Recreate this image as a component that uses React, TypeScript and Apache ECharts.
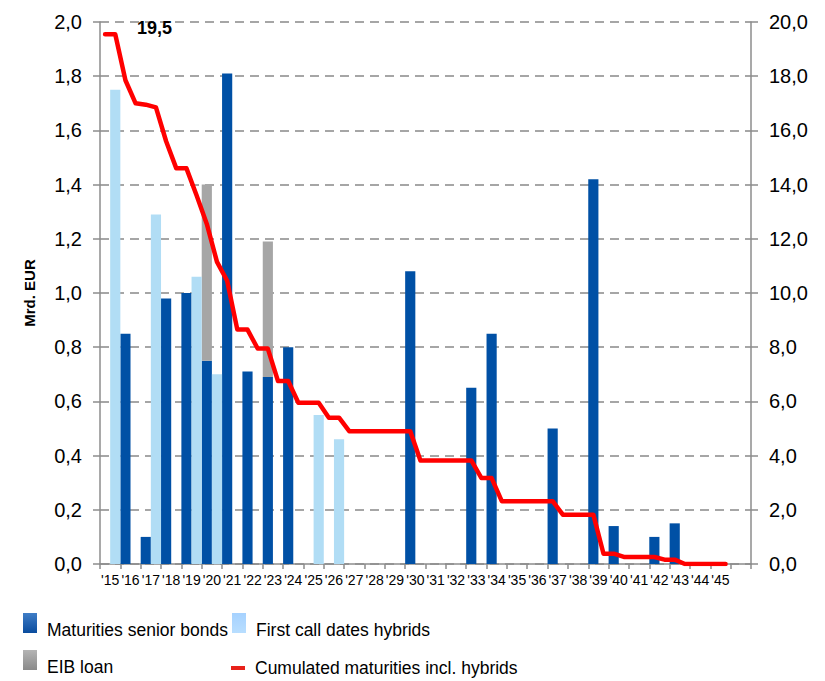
import React, { useEffect, useRef } from "react";
import * as echarts from "echarts";

const years = ["'15","'16","'17","'18","'19","'20","'21","'22","'23","'24","'25","'26","'27","'28","'29","'30","'31","'32","'33","'34","'35","'36","'37","'38","'39","'40","'41","'42","'43","'44","'45",""];

const seniorBonds = [null,0.85,0.10,0.98,1.00,0.75,1.81,0.71,0.69,0.80,null,null,null,null,null,1.08,null,null,0.65,0.85,null,null,0.50,null,1.42,0.14,null,0.10,0.15,null,null,null];
const eibLoan = [null,null,null,null,null,0.65,null,null,0.50,null,null,null,null,null,null,null,null,null,null,null,null,null,null,null,null,null,null,null,null,null,null,null];
const hybrids = [1.75,null,1.29,null,1.06,0.70,null,null,null,null,0.55,0.46,null,null,null,null,null,null,null,null,null,null,null,null,null,null,null,null,null,null,null,null];

// cumulated maturities, read at every half-year slot (two points per year)
const cumulated = [
  19.55,19.55, 17.85,17.0, 16.95,16.85, 15.6,14.6, 14.6,13.6, 12.55,11.15, 10.45,8.65, 8.65,7.95,
  7.95,6.75, 6.75,5.95, 5.95,5.95, 5.4,5.4, 4.9,4.9, 4.9,4.9, 4.9,4.9, 4.9,3.82,
  3.82,3.82, 3.82,3.82, 3.82,3.17, 3.17,2.32, 2.32,2.32, 2.32,2.32, 2.32,1.82, 1.82,1.82,
  1.82,0.38, 0.38,0.26, 0.26,0.26, 0.26,0.16, 0.16,0, 0,0, 0,0, null,null
];
const halfSlots = cumulated.map((_, i) => String(i));

const leftTicks = { min: 0, max: 2, interval: 0.2 };
const rightTicks = { min: 0, max: 20, interval: 2 };

const FONT = "'Liberation Sans', Arial, sans-serif";

const DARK = "#0050A5";
const LIGHT = "#B1DDF5";
const GRAY = "#A6A6A6";
const RED = "#FF0000";
const AXIS = "#8C8C8C";

const fmt = (v: number) => v.toFixed(1).replace(".", ",");

export default function App() {
  const ref = useRef<HTMLDivElement>(null);
  useEffect(() => {
    if (!ref.current) return;
    const chart = echarts.init(ref.current, undefined, { renderer: "svg" });
    const grad = (a: string, b: string) =>
      new echarts.graphic.LinearGradient(0, 0, 0, 1, [
        { offset: 0, color: a },
        { offset: 1, color: b },
      ]);
    const legendText = (shift: boolean) => ({
      fontFamily: FONT,
      fontSize: 17.5,
      color: "#000",
      rich: {
        t: {
          fontFamily: FONT,
          fontSize: 17.5,
          color: "#000",
          padding: shift ? [14, 0, 0, 5] : [0, 0, 0, 5],
        },
      },
    });
    const legendBase = {
      orient: "horizontal",
      padding: 0,
      icon: "rect",
      itemWidth: 14,
      itemHeight: 20,
      itemGap: 10,
      selectedMode: false,
      formatter: "{t|{name}}",
    };
    chart.setOption({
      animation: false,
      backgroundColor: "#fff",
      grid: { left: 100, top: 22, width: 651, height: 542 },
      legend: [
        { ...legendBase, left: 23, top: 613, textStyle: legendText(true),
          data: [{ name: "Maturities senior bonds", itemStyle: { color: grad("#3F7DC6", "#0A4C9E") } }] },
        { ...legendBase, left: 232, top: 613, textStyle: legendText(true),
          data: [{ name: "First call dates hybrids", itemStyle: { color: grad("#A6D2FF", "#B8DEFF") } }] },
        { ...legendBase, left: 23, top: 650, textStyle: legendText(true),
          data: [{ name: "EIB loan", itemStyle: { color: grad("#B4B4B4", "#8A8A8A") } }] },
        { ...legendBase, left: 231, top: 659, itemHeight: 4, textStyle: legendText(false),
          data: [{ name: "Cumulated maturities incl. hybrids", itemStyle: { color: "#E8211A" } }] },
      ],
      xAxis: [
        {
          type: "category",
          data: years,
          boundaryGap: true,
          axisLine: { show: true, lineStyle: { color: AXIS, width: 1.5 } },
          axisTick: { show: true, length: 5, lineStyle: { color: AXIS, width: 1.5 } },
          axisLabel: { interval: 0, fontFamily: FONT, fontSize: 14, color: "#000", margin: 9 },
          splitLine: { show: false },
        },
        {
          type: "category",
          data: halfSlots,
          boundaryGap: true,
          show: false,
          position: "top",
        },
      ],
      yAxis: [
        {
          type: "value",
          ...leftTicks,
          position: "left",
          name: "Mrd. EUR",
          nameLocation: "middle",
          nameGap: 63,
          nameRotate: 90,
          nameTextStyle: { fontFamily: FONT, fontWeight: "bold", fontSize: 15, color: "#000" },
          axisLine: { show: true, lineStyle: { color: AXIS, width: 1.5 } },
          axisTick: { show: true, length: 7, lineStyle: { color: AXIS, width: 1.5 } },
          axisLabel: { formatter: fmt, fontFamily: FONT, fontSize: 20, color: "#000", margin: 18 },
          splitLine: { show: true, lineStyle: { color: "#A6A6A6", width: 2, type: [9, 6] } },
        },
        {
          type: "value",
          ...rightTicks,
          position: "right",
          axisLine: { show: true, lineStyle: { color: AXIS, width: 1.5 } },
          axisTick: { show: true, length: 7, lineStyle: { color: AXIS, width: 1.5 } },
          axisLabel: { formatter: fmt, fontFamily: FONT, fontSize: 20, color: "#000", margin: 18 },
          splitLine: { show: false },
        },
      ],
      series: [
        {
          name: "Maturities senior bonds",
          type: "bar",
          stack: "bonds",
          data: seniorBonds,
          itemStyle: { color: DARK },
          barCategoryGap: "0%",
          barGap: "0%",
        },
        {
          name: "EIB loan",
          type: "bar",
          stack: "bonds",
          data: eibLoan,
          itemStyle: { color: GRAY },
        },
        {
          name: "First call dates hybrids",
          type: "bar",
          stack: "hyb",
          data: hybrids,
          itemStyle: { color: LIGHT },
        },
        {
          name: "Cumulated maturities incl. hybrids",
          type: "line",
          xAxisIndex: 1,
          yAxisIndex: 1,
          symbol: "circle",
          symbolSize: 0,
          showSymbol: true,
          showAllSymbol: true,
          lineStyle: { color: RED, width: 4.5, cap: "round", join: "round" },
          itemStyle: { color: RED },
          z: 5,
          data: cumulated.map((v, i) =>
            i === 0
              ? {
                  value: v,
                  label: {
                    show: true,
                    position: "right",
                    offset: [27, -6],
                    formatter: "19,5",
                    fontFamily: FONT,
                    fontWeight: "bold",
                    fontSize: 18,
                    color: "#000",
                  },
                }
              : v
          ),
        },
      ],
    });
    return () => chart.dispose();
  }, []);
  return (
    <div
      ref={ref}
      style={{ position: "fixed", left: 0, top: 0, width: 825, height: 681, background: "#fff" }}
    />
  );
}
